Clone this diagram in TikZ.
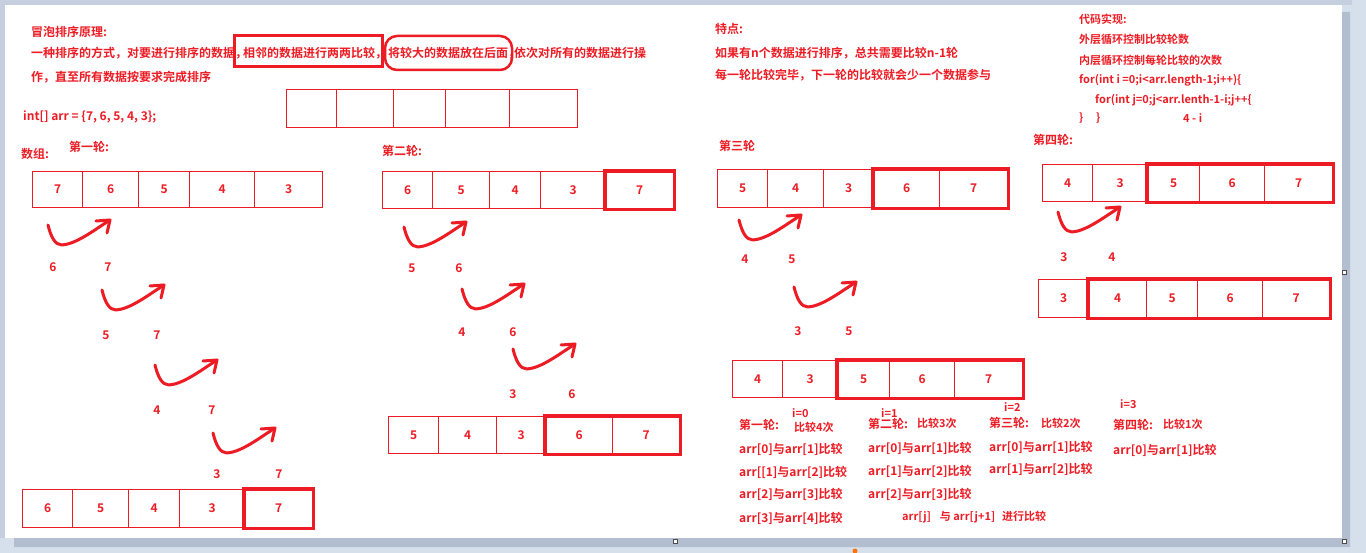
\documentclass[tikz,border=0pt]{standalone}
\usepackage{fontspec}
\setmainfont{Noto Sans CJK SC}[BoldFont={Noto Sans CJK SC Bold}]
\definecolor{penred}{RGB}{237,28,36}
\definecolor{deskgray}{RGB}{214,223,236}
\definecolor{framegray}{RGB}{197,207,223}
\definecolor{shadowgray}{RGB}{178,190,208}
\tikzset{
  txt/.style={text=penred, font=\bfseries\fontsize{12}{14}\selectfont, inner sep=0pt, anchor=west},
  small/.style={txt, font=\bfseries\fontsize{11}{13}\selectfont},
  num/.style={text=penred, font=\bfseries\fontsize{12}{14}\selectfont, inner sep=0pt},
  cell/.style={num, draw=penred, line width=1.3pt, anchor=north west},
  hold/.style={draw=penred, line width=3.5pt},
  pen/.style={draw=penred, line width=3pt, line cap=round, line join=round},
  swaparrow/.pic={
    \draw[pen] (0,0) .. controls (3,12) and (7,20) .. (14,20)
               .. controls (28,19) and (45,6) .. (62,-5);
    \draw[pen] (48,-4) -- (62,-5) -- (59,8);
  }
}
\newcommand\cellrow[4]{%
  \foreach \xa/\xb/\val [count=\i] in {#4}
    \node[cell, minimum width=\xb-\xa, minimum height=#3-#2] (#1\i) at (\xa,#2) {\val};
}
\begin{document}
\begin{tikzpicture}[x=1pt,y=-1pt]
\useasboundingbox (0,0) rectangle (1366,553);
% desk and page
\fill[deskgray] (0,0) rectangle (1366,553);
\fill[framegray] (0,0) rectangle (1352,5) (0,0) rectangle (5,538);
\fill[shadowgray] (14,538) rectangle (1350,547) (1342,12) rectangle (1350,547);
\fill[white] (5,5) rectangle (1342,538);
\draw[black!70, fill=white, line width=0.8pt] (1342,270) rectangle +(4,4)
      (673,539) rectangle +(4,4) (1342,539) rectangle +(4,4);
\fill[orange!90!red] (855,551) circle (2.5);

% principle
\node[txt] (title) at (31,32) {冒泡排序原理:};
\node[txt] (ruleA) at (31,53) {一种排序的方式，对要进行排序的数据，};
\node[txt] (ruleB) at (243,53) {相邻的数据进行两两比较，};
\node[txt] (ruleC) at (388,53) {将较大的数据放在后面，};
\node[txt] (ruleD) at (514,53) {依次对所有的数据进行操};
\node[txt] (ruleE) at (31,77) {作，直至所有数据按要求完成排序};
\draw[penred, line width=3pt] (234,36) rectangle (382,67);
\draw[penred, line width=2.5pt, rounded corners=12pt] (385,36) rectangle (512,70);
\node[txt] (decl) at (23,117) {int[] arr = \{7, 6, 5, 4, 3\};};
\cellrow{e}{89}{127}{286/336/{},336/393/{},393/445/{},445/509/{},509/577/{}}

% features
\node[txt] (feat) at (715,29) {特点:};
\node[txt] (featA) at (715,53) {如果有n个数据进行排序，总共需要比较n-1轮};
\node[txt] (featB) at (715,75) {每一轮比较完毕，下一轮的比较就会少一个数据参与};

% code
\node[small] (code) at (1079,19) {代码实现:};
\node[small] (outer) at (1079,39) {外层循环控制比较轮数};
\node[small] (inner) at (1079,60) {内层循环控制每轮比较的次数};
\node[small] (forI) at (1079,80) {for(int i =0;i<arr.length-1;i++)\{};
\node[small] (forJ) at (1095,100) {for(int j=0;j<arr.lenth-1-i;j++\{};
\node[small] (endI) at (1079,118) {\}};
\node[small] (endJ) at (1096,118) {\}};
\node[small] (bound) at (1183,118) {4 - i};

% first round
\node[txt] (arrname) at (21,154) {数组:};
\node[txt] (one) at (69,147) {第一轮:};
\cellrow{a}{171}{207}{32/82/7,82/138/6,138/189/5,189/254/4,254/322/3}
\foreach \p in {(48,225),(102,290),(155,365),(213,433)}
  \pic at \p {swaparrow};
\foreach \x/\y/\val [count=\i] in {53/267/6,108/267/7,106/335/5,157/335/7,157/410/4,212/410/7,217/474/3,279/474/7}
  \node[num] (oneval\i) at (\x,\y) {\val};
\cellrow{b}{489}{527}{22/72/6,72/128/5,128/179/4,179/244/3,244/312/7}
\draw[hold] (b5.north west) rectangle (b5.south east);

% second round
\node[txt] (two) at (382,151) {第二轮:};
\cellrow{c}{171}{208}{382/432/6,432/489/5,489/540/4,540/605/3,605/673/7}
\draw[hold] (c5.north west) rectangle (c5.south east);
\foreach \p in {(404,227),(462,289),(513,349)}
  \pic at \p {swaparrow};
\foreach \x/\y/\val [count=\i] in {412/268/5,459/268/6,462/332/4,513/332/6,513/394/3,572/394/6}
  \node[num] (twoval\i) at (\x,\y) {\val};
\cellrow{d}{416}{453}{388/438/5,438/496/4,496/545/3,545/612/6,612/679/7}
\draw[hold] (d4.north west) rectangle (d5.south east);

% third round
\node[txt] (three) at (719,146) {第三轮};
\cellrow{f}{169}{207}{717/767/5,767/823/4,823/873/3,873/939/6,939/1007/7}
\draw[hold] (f4.north west) rectangle (f5.south east);
\foreach \p in {(739,220),(794,287)}
  \pic at \p {swaparrow};
\foreach \x/\y/\val [count=\i] in {745/259/4,792/259/5,798/331/3,849/331/5}
  \node[num] (threeval\i) at (\x,\y) {\val};
\cellrow{g}{360}{397}{732/782/4,782/837/3,837/889/5,889/954/6,954/1022/7}
\draw[hold] (g3.north west) rectangle (g5.south east);

% fourth round
\node[txt] (four) at (1033,140) {第四轮:};
\cellrow{h}{164}{201}{1042/1092/4,1092/1147/3,1147/1199/5,1199/1264/6,1264/1332/7}
\draw[hold] (h3.north west) rectangle (h5.south east);
\pic at (1058,212) {swaparrow};
\node[num] (fourval1) at (1064,257) {3};
\node[num] (fourval2) at (1112,257) {4};
\cellrow{k}{279}{317}{1038/1088/3,1088/1146/4,1146/1197/5,1197/1262/6,1262/1329/7}
\draw[hold] (k2.north west) rectangle (k5.south east);

% summary
\node[small] (iA) at (792,413) {i=0};
\node[txt] (sumA) at (739,425) {第一轮:};
\node[small] (cntA) at (794,427) {比较4次};
\node[txt] (cmpA1) at (739,449) {arr[0]与arr[1]比较};
\node[txt] (cmpA2) at (739,472) {arr[[1]与arr[2]比较};
\node[txt] (cmpA3) at (739,494) {arr[2]与arr[3]比较};
\node[txt] (cmpA4) at (739,518) {arr[3]与arr[4]比较};
\node[small] (iB) at (881,413) {i=1};
\node[txt] (sumB) at (868,424) {第二轮:};
\node[small] (cntB) at (917,423) {比较3次};
\node[txt] (cmpB1) at (868,448) {arr[0]与arr[1]比较};
\node[txt] (cmpB2) at (868,471) {arr[1]与arr[2]比较};
\node[txt] (cmpB3) at (868,494) {arr[2]与arr[3]比较};
\node[small] (iC) at (1004,407) {i=2};
\node[txt] (sumC) at (989,423) {第三轮:};
\node[small] (cntC) at (1041,423) {比较2次};
\node[txt] (cmpC1) at (989,447) {arr[0]与arr[1]比较};
\node[txt] (cmpC2) at (989,469) {arr[1]与arr[2]比较};
\node[small] (iD) at (1120,404) {i=3};
\node[txt] (sumD) at (1113,425) {第四轮:};
\node[small] (cntD) at (1163,424) {比较1次};
\node[txt] (cmpD1) at (1113,450) {arr[0]与arr[1]比较};
\node[small] (rule) at (902,517) {arr[j]\hspace{9pt}与 arr[j+1]\hspace{7pt}进行比较};
\end{tikzpicture}
\end{document}
